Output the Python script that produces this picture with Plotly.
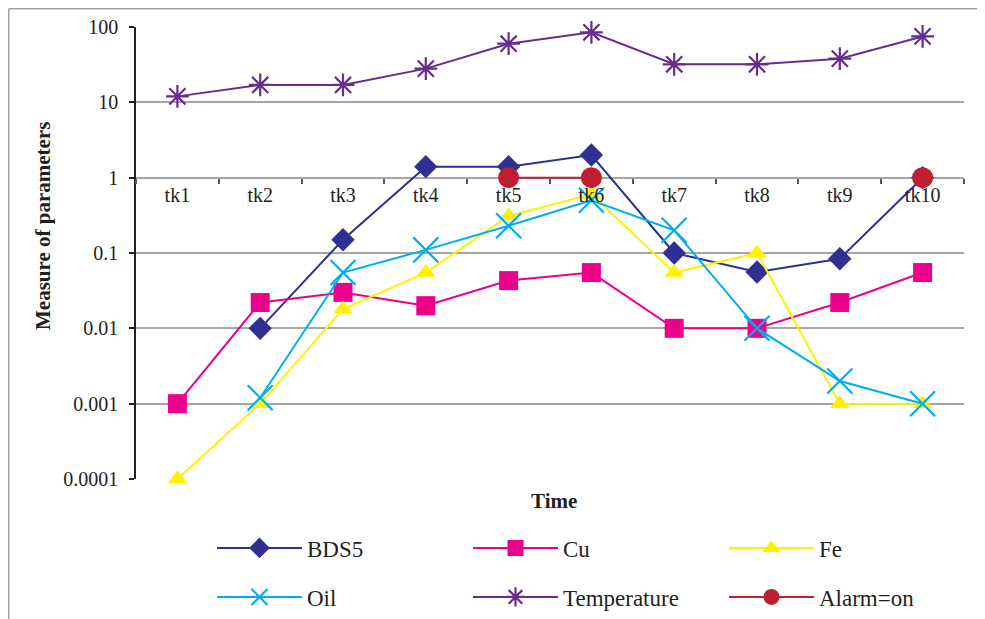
import plotly.graph_objects as go

categories = ["tk1", "tk2", "tk3", "tk4", "tk5", "tk6", "tk7", "tk8", "tk9", "tk10"]
bds5 = [None, 0.01, 0.15, 1.4, 1.4, 2.0, 0.1, 0.056, 0.084, 1.0]
cu = [0.001, 0.022, 0.03, 0.02, 0.043, 0.055, 0.01, 0.01, 0.022, 0.055]
fe = [0.0001, 0.001, 0.018, 0.055, 0.31, 0.6, 0.055, 0.1, 0.001, 0.001]
oil = [None, 0.0012, 0.055, 0.11, 0.23, 0.5, 0.2, 0.01, 0.002, 0.001]
temperature = [12, 17, 17, 28, 60, 85, 32, 32, 38, 75]
alarm = [None, None, None, None, 1, 1, None, None, None, 1]

ytick_vals = [0.0001, 0.001, 0.01, 0.1, 1, 10, 100]
ytick_text = ["0.0001", "0.001", "0.01", "0.1", "1", "10", "100"]

FONT = "Liberation Serif"
W, H = 985, 619
OFF = 8  # page body margin in the browser
# plot area in screenshot pixels
PX0, PX1, PY0, PY1 = 136, 964, 27, 479
ML, MT = PX0 - OFF, PY0 - OFF
PW, PH = PX1 - PX0, PY1 - PY0
MR, MB = W - ML - PW, H - MT - PH

series = [
    ("BDS5", bds5, "#2E3192", "diamond", 18, "legend"),
    ("Cu", cu, "#EC008C", "square", 19, "legend"),
    ("Fe", fe, "#FFF200", "triangle-up", 17, "legend"),
    ("Oil", oil, "#00AEEF", "x-thin-open", 25, "legend2"),
    ("Temperature", temperature, "#662D91", "asterisk-open", 19, "legend2"),
    ("Alarm=on", alarm, "#BE1E2D", "circle", 21, "legend2"),
]

fig = go.Figure()
for name, vals, color, sym, size, leg in series:
    open_sym = sym.endswith("open")
    fig.add_trace(go.Scatter(
        x=categories, y=vals, name=name, mode="lines+markers",
        line=dict(color=color, width=2),
        marker=dict(symbol=sym, size=size, color=color,
                    line=dict(color=color, width=2.2 if open_sym else 0)),
        connectgaps=False, legend=leg, cliponaxis=False,
    ))

def px_x(p):
    return (p - PX0) / PW

def px_y(p):
    return (PY1 - p) / PH

legend_common = dict(
    orientation="h", xref="container", yref="container",
    xanchor="left", yanchor="middle",
    entrywidth=156, entrywidthmode="pixels", itemwidth=85,
    font=dict(size=23, family=FONT, color="#231F20"),
    bgcolor="rgba(0,0,0,0)", traceorder="normal",
)

fig.update_layout(
    width=W, height=H,
    margin=dict(l=ML, r=MR, t=MT, b=MB, autoexpand=False),
    paper_bgcolor="white", plot_bgcolor="white",
    font=dict(family=FONT, size=20, color="#231F20"),
    xaxis=dict(
        type="category", range=[-0.5, 9.5], anchor="free", position=4 / 6,
        showgrid=False, showline=False,
        ticks="outside", ticklen=5, tickcolor="#555555", tickwidth=1.5,
        tickson="boundaries", tickfont=dict(size=20, family=FONT),
        ticklabelstandoff=3, zeroline=False,
    ),
    yaxis=dict(
        type="log", range=[-4, 2], tickvals=ytick_vals, ticktext=ytick_text,
        showgrid=True, gridcolor="#A6A6A6", gridwidth=1.5,
        showline=True, linecolor="#231F20", linewidth=1.5,
        ticks="outside", ticklen=5, tickcolor="#231F20", tickwidth=1.5,
        tickfont=dict(size=20, family=FONT), ticklabelstandoff=7,
        zeroline=False,
    ),
    legend=dict(legend_common, x=(212 - OFF) / W, y=1 - (548 - OFF) / H),
    legend2=dict(legend_common, x=(212 - OFF) / W, y=1 - (597 - OFF) / H),
    annotations=[
        dict(text="<b>Measure of parameters</b>", textangle=-90,
             xref="paper", yref="paper", x=px_x(43), y=px_y(226),
             xanchor="center", yanchor="middle", showarrow=False,
             font=dict(size=21, family=FONT, color="#231F20")),
        dict(text="<b>Time</b>", xref="paper", yref="paper",
             x=px_x(554), y=px_y(501), xanchor="center", yanchor="middle",
             showarrow=False, font=dict(size=21, family=FONT, color="#231F20")),
    ],
    shapes=[
        # category axis line at y = 1, drawn beneath the series
        dict(type="line", xref="x domain", yref="y", x0=0, x1=1, y0=1, y1=1,
             layer="below", line=dict(color="#555555", width=1.5)),
        dict(type="line", xref="paper", yref="paper",
             x0=px_x(OFF + 0.75), x1=px_x(W + 20), y0=px_y(OFF + 0.75), y1=px_y(OFF + 0.75),
             line=dict(color="#A0A0A0", width=1.5)),
        dict(type="line", xref="paper", yref="paper",
             x0=px_x(OFF + 0.75), x1=px_x(OFF + 0.75), y0=px_y(OFF + 0.75), y1=px_y(H + 20),
             line=dict(color="#A0A0A0", width=1.5)),
    ],
)

fig.write_html("out.html")
